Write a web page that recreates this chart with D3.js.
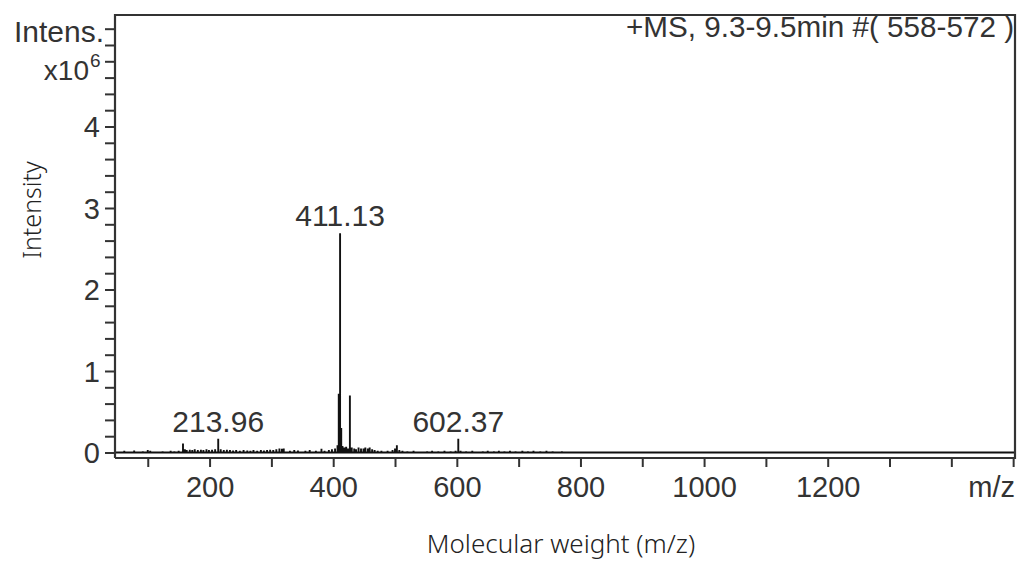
<!DOCTYPE html>
<html>
<head>
<meta charset="utf-8">
<script src="https://cdn.jsdelivr.net/npm/d3@7"></script>
<style>
  html, body { margin: 0; padding: 0; background: #fff; }
  svg { display: block; }
</style>
</head>
<body>
<svg id="chart" width="1024" height="562"></svg>
<script>
// ---- data (intensity in units of 10^6) ----
const mzValues = [62, 70, 78, 92, 100, 104, 118, 124, 130, 137, 143, 150, 157, 160, 163, 168, 172, 176, 181, 186,
  190, 195, 199, 204, 209, 214, 218, 223, 228, 233, 238, 243, 249, 255, 261, 266, 271, 277, 283, 288,
  293, 298, 303, 308, 313, 317, 320, 330, 337, 343, 355, 362, 372, 381, 386, 393, 398, 403, 407, 409,
  411.13, 413, 415, 418, 421, 424, 427, 430, 434, 437, 441, 445, 449, 452, 456, 459, 463, 467, 472, 478,
  488, 496, 500, 503, 507, 512, 520, 530, 540, 552, 560, 570, 580, 590, 598, 602.37, 606, 615, 625, 633,
  642, 650, 660, 668, 677, 686, 695, 706, 715, 724, 735, 745, 755, 770, 785, 800, 820, 872, 905, 928, 1270];
const intensities = [0.02, 0.01, 0.025, 0.015, 0.03, 0.02, 0.01, 0.015, 0.01, 0.02, 0.015, 0.02, 0.11, 0.04, 0.03, 0.035, 0.03, 0.04, 0.03, 0.035,
  0.03, 0.04, 0.03, 0.035, 0.04, 0.17, 0.04, 0.03, 0.035, 0.03, 0.025, 0.03, 0.02, 0.03, 0.025, 0.02, 0.03, 0.02, 0.03, 0.025,
  0.03, 0.035, 0.03, 0.04, 0.05, 0.045, 0.05, 0.02, 0.03, 0.025, 0.02, 0.03, 0.02, 0.045, 0.02, 0.03, 0.04, 0.05, 0.09, 0.72,
  2.69, 0.3, 0.08, 0.06, 0.07, 0.05, 0.70, 0.06, 0.05, 0.04, 0.06, 0.05, 0.05, 0.06, 0.05, 0.06, 0.04, 0.03, 0.02, 0.02,
  0.02, 0.03, 0.05, 0.09, 0.03, 0.02, 0.015, 0.02, 0.01, 0.015, 0.02, 0.015, 0.02, 0.015, 0.02, 0.17, 0.02, 0.015, 0.02, 0.01,
  0.015, 0.02, 0.015, 0.02, 0.015, 0.02, 0.015, 0.02, 0.015, 0.02, 0.015, 0.02, 0.015, 0.015, 0.01, 0.01, 0.01, 0.01, 0.01, 0.012, 0.008];
const labelledPeaks = [213.96, 411.13, 602.37];
const labelledValues = [0.17, 2.69, 0.17];
const xTickValues = [100, 200, 300, 400, 500, 600, 700, 800, 900, 1000, 1100, 1200, 1300, 1400, 1500];
const xTickLabels = [200, 400, 600, 800, 1000, 1200];
const yTickValues = d3.range(0, 27).map(i => i * 0.2);
const yTickLabels = [0, 1, 2, 3, 4];
const titleText = "+MS, 9.3-9.5min #( 558-572 )";

// ---- layout ----
const plotLeft = 115, plotRight = 1015, plotTop = 15, axisY = 458;
const svg = d3.select("#chart");
const x = d3.scaleLinear().domain([47, 1503]).range([plotLeft, plotRight]);
const y = d3.scaleLinear().domain([0, 5.368]).range([452.5, plotTop]);

const tickFont = "'Liberation Sans', Arial, sans-serif";
const textColor = "#333";

// spectrum path
const pts = [[x.domain()[0], 0]];
mzValues.forEach((m, i) => { pts.push([m, 0], [m, intensities[i]], [m, 0]); });
pts.push([x.domain()[1], 0]);
const line = d3.line().x(d => x(d[0])).y(d => y(d[1]));
svg.append("path")
  .attr("d", line(pts))
  .attr("fill", "none")
  .attr("stroke", "#111")
  .attr("stroke-width", 1.9);

// frame
svg.append("path")
  .attr("d", `M${plotLeft},${axisY}V${plotTop}H${plotRight}V${axisY}H${plotLeft}`)
  .attr("fill", "none").attr("stroke", "#333").attr("stroke-width", 2.2);

// y axis
const yAxis = d3.axisLeft(y).tickValues(yTickValues).tickSize(10)
  .tickFormat(d => { const r = Math.round(d * 10) / 10; return yTickLabels.includes(r) ? String(r) : ""; });
const gy = svg.append("g").attr("transform", `translate(${plotLeft},0)`).call(yAxis);
gy.select(".domain").remove();
gy.selectAll(".tick line").attr("stroke", "#333").attr("stroke-width", 2);
gy.selectAll(".tick text").attr("font-family", tickFont).attr("font-size", 29).attr("fill", textColor)
  .attr("x", -15).attr("dy", "0.36em");

// x axis
const xAxis = d3.axisBottom(x).tickValues(xTickValues).tickSize(9)
  .tickFormat(d => xTickLabels.includes(d) ? String(d) : "");
const gx = svg.append("g").attr("transform", `translate(0,${axisY})`).call(xAxis);
gx.select(".domain").remove();
gx.selectAll(".tick line").attr("stroke", "#333").attr("stroke-width", 2);
gx.selectAll(".tick text").attr("font-family", tickFont).attr("font-size", 29).attr("fill", textColor)
  .attr("y", 39).attr("dy", 0);

// m/z unit label
svg.append("text").attr("x", 1015).attr("y", 497).attr("text-anchor", "end")
  .attr("font-family", tickFont).attr("font-size", 29).attr("fill", textColor).text("m/z");

// Intens. x10^6
svg.append("text").attr("x", 104).attr("y", 42).attr("text-anchor", "end")
  .attr("font-family", tickFont).attr("font-size", 30).attr("fill", textColor)
  .attr("textLength", 90).attr("lengthAdjust", "spacingAndGlyphs").text("Intens.");
svg.append("text").attr("x", 89).attr("y", 80).attr("text-anchor", "end")
  .attr("font-family", tickFont).attr("font-size", 28).attr("fill", textColor).text("x10");
svg.append("text").attr("x", 90).attr("y", 67)
  .attr("font-family", tickFont).attr("font-size", 19).attr("fill", textColor).text("6");

// title
svg.append("text").attr("x", 1014).attr("y", 37).attr("text-anchor", "end")
  .attr("font-family", tickFont).attr("font-size", 29).attr("fill", textColor)
  .attr("textLength", 388).attr("lengthAdjust", "spacingAndGlyphs").text(titleText);

// peak labels
labelledPeaks.forEach((m, i) => {
  svg.append("text").attr("x", x(m)).attr("y", y(labelledValues[i]) - 7)
    .attr("text-anchor", "middle").attr("font-family", tickFont).attr("font-size", 30)
    .attr("fill", textColor).text(m.toFixed(2));
});

// axis titles
svg.append("text").attr("transform", "translate(41,210) rotate(-90)")
  .attr("text-anchor", "middle").attr("font-family", "'Noto Sans', sans-serif").attr("font-size", 25)
  .attr("font-weight", 300).attr("fill", "#222").text("Intensity");
svg.append("text").attr("x", 561).attr("y", 553)
  .attr("text-anchor", "middle").attr("font-family", "'Noto Sans', sans-serif").attr("font-size", 26)
  .attr("font-weight", 300).attr("fill", "#222").text("Molecular weight (m/z)");
</script>
</body>
</html>
